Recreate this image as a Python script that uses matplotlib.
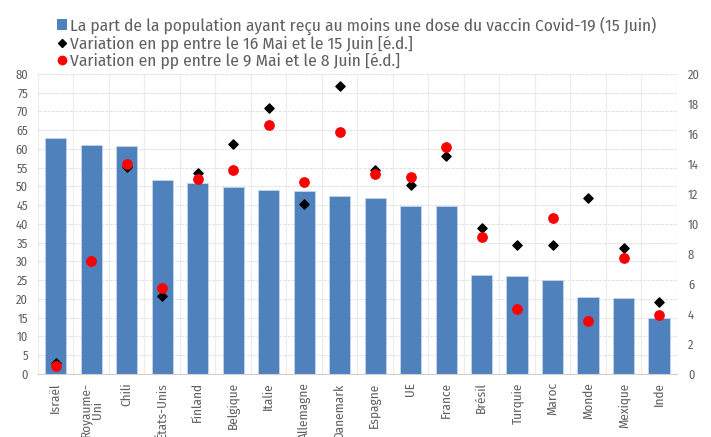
import matplotlib.pyplot as plt
import numpy as np
from matplotlib.lines import Line2D
from matplotlib.patches import Patch

countries = ["Israël", "Royaume-\nUni", "Chili", "États-Unis", "Finland", "Belgique",
             "Italie", "Allemagne", "Danemark", "Espagne", "UE", "France", "Brésil",
             "Turquie", "Maroc", "Monde", "Mexique", "Inde"]
share_dose = [63.0, 61.1, 60.8, 51.7, 50.9, 49.8, 49.1, 48.9, 47.5, 46.8, 44.9, 44.7,
              26.3, 26.0, 25.1, 20.6, 20.2, 14.8]
var_16mai_15juin = [0.7, 7.5, 13.8, 5.2, 13.4, 15.3, 17.7, 11.3, 19.2, 13.6, 12.6, 14.5,
                    9.7, 8.6, 8.6, 11.7, 8.4, 4.8]
var_9mai_8juin = [0.5, 7.5, 14.0, 5.7, 13.0, 13.6, 16.6, 12.8, 16.1, 13.3, 13.1, 15.1,
                  9.1, 4.3, 10.4, 3.5, 7.7, 3.9]

plt.rcParams['font.family'] = ['Fira Sans Condensed', 'DejaVu Sans']
plt.rcParams['font.weight'] = 'normal'
grey = '#606060'

fig = plt.figure(figsize=(7.11, 4.37), dpi=100)
ax = fig.add_axes([0.0534, 0.1442, 0.8986, 0.6865])
ax2 = ax.twinx()

x = np.arange(len(countries))
ax.bar(x, share_dose, width=0.6, color='#4f81bd', edgecolor='#c5d5ea', linewidth=0.6, zorder=2)
ax2.scatter(x, var_16mai_15juin, marker='D', s=22, color='black', zorder=3)
ax2.scatter(x, var_9mai_8juin, marker='o', s=45, color='#ff0000', zorder=4)

ax.set_xlim(-0.5, len(countries) - 0.5)
ax.set_ylim(0, 80)
ax.set_yticks(np.arange(0, 81, 5))
ax2.set_ylim(0, 20)
ax2.set_yticks(np.arange(0, 21, 2))

ax.set_xticks(x)
ax.set_xticklabels(countries, rotation=90, va='top', ha='center', linespacing=0.9)
ax.set_xticks(np.arange(-0.5, len(countries), 1), minor=True)
ax.grid(axis='y', color='#e4e4e4', linewidth=0.8, linestyle=(0, (3, 1)), zorder=0)
ax.grid(axis='x', which='minor', color='#ececec', linewidth=0.8, zorder=0)
ax.tick_params(axis='x', which='major', length=0, colors=grey, labelsize=9.5, pad=6)
ax.tick_params(axis='x', which='minor', length=0)
ax.tick_params(axis='y', length=0, colors=grey, labelsize=9, pad=7)
ax2.tick_params(axis='y', length=0, colors=grey, labelsize=9, pad=8)

for a in (ax, ax2):
    for side in ('top', 'left', 'right'):
        a.spines[side].set_visible(False)
    a.spines['bottom'].set_color('#d0d0d0')
ax2.spines['bottom'].set_visible(False)

handles = [
    Patch(facecolor='#4f81bd', label="La part de la population ayant reçu au moins une dose du vaccin Covid-19 (15 Juin)"),
    Line2D([], [], marker='D', color='black', linestyle='none', markersize=4,
           label="Variation en pp entre le 16 Mai et le 15 Juin [é.d.]"),
    Line2D([], [], marker='o', color='#ff0000', linestyle='none', markersize=6,
           label="Variation en pp entre le 9 Mai et le 8 Juin [é.d.]"),
]
fig.legend(handles=handles, loc='upper left', bbox_to_anchor=(0.066, 0.985), frameon=False,
           fontsize=12.5, labelcolor=grey, handlelength=0.55, handleheight=0.6,
           handletextpad=0.2, labelspacing=0.02, borderaxespad=0.2)

fig.savefig('out.png', dpi=100)
